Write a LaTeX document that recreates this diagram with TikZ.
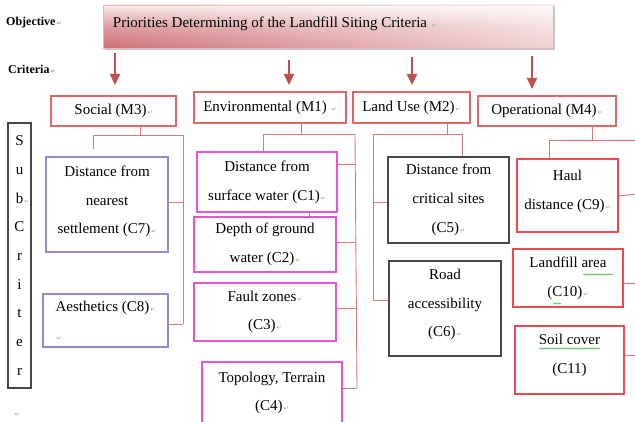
\documentclass[tikz,border=0pt]{standalone}
\usepackage{fontspec}
\setmainfont{Liberation Serif}
\newfontfamily\symf{DejaVu Sans}
\usetikzlibrary{arrows.meta,shadows,decorations.pathmorphing,fadings}
\definecolor{connc}{RGB}{224,120,120}
\definecolor{critc}{RGB}{222,104,104}
\definecolor{arrc}{RGB}{192,80,77}
\definecolor{lavc}{RGB}{155,135,205}
\definecolor{magc}{RGB}{236,82,214}
\definecolor{grayc}{RGB}{70,70,70}
\definecolor{redc}{RGB}{240,72,76}
\definecolor{tdark}{RGB}{206,112,118}
\definecolor{tlight}{RGB}{250,236,236}
\definecolor{wavyc}{RGB}{90,180,90}
\tikzfading[name=fadeR, left color=transparent!100, right color=transparent!0]
\newcommand\rt{{\symf\fontsize{6}{6}\selectfont\textcolor{gray!80}{\,↵}}}
\tikzset{
  box/.style={draw, line width=1.1pt, fill=white, align=center, inner sep=0pt,
    font=\fontsize{15}{28.7}\selectfont},
  crit/.style={box, draw=critc},
  lav/.style={box, draw=lavc},
  mag/.style={box, draw=magc},
  dark/.style={box, draw=grayc},
  redbox/.style={box, draw=redc},
  conn/.style={draw=connc, line width=0.9pt},
  arr/.style={draw=arrc, line width=2.2pt, -{Triangle[width=10pt,length=11pt]}},
  lbl/.style={font=\fontsize{12}{14}\selectfont\bfseries, inner sep=0pt, anchor=west},
  wavy/.style={draw=wavyc, line width=0.6pt, decorate,
    decoration={snake, amplitude=0.7pt, segment length=2.5pt}}
}
\begin{document}
\begin{tikzpicture}[x=1pt,y=-1pt]
\useasboundingbox (0,0) rectangle (635,422);
\clip (0,0) rectangle (635,422);
\fill[white] (0,0) rectangle (635,422);

% labels
\node[lbl] (objl) at (6,23) {Objective\rt};
\node[lbl] (crital) at (8,69) {Criteria\rt};

% title box (shaded), fade overlay, then text
\node[draw=tdark!50, line width=0.5pt, minimum width=450pt, minimum height=43pt,
  inner sep=0pt, top color=tlight, bottom color=tdark, middle color=tdark!65!tlight,
  drop shadow={shadow xshift=1.5pt, shadow yshift=-2.5pt, opacity=0.45}] (titlebox) at (328,26.5) {};
\fill[white, fill opacity=0.7, path fading=fadeR]
  ([xshift=0.3pt,yshift=0.3pt]titlebox.south west) rectangle ([xshift=-0.3pt,yshift=-0.3pt]titlebox.north east);
\node[anchor=west, inner sep=0pt, font=\fontsize{15}{18}\selectfont] (title)
  at ([xshift=10pt,yshift=2.5pt]titlebox.west)
  {Priorities Determining of the Landfill Siting Criteria \rt};

% arrows
\coordinate (a1s) at (115,53); \coordinate (a1e) at (115,85);
\coordinate (a2s) at (289,60); \coordinate (a2e) at (289,85);
\coordinate (a3s) at (412,57); \coordinate (a3e) at (412,85);
\coordinate (a4s) at (532,56); \coordinate (a4e) at (532,89);
\draw[arr] (a1s) -- (a1e);
\draw[arr] (a2s) -- (a2e);
\draw[arr] (a3s) -- (a3e);
\draw[arr] (a4s) -- (a4e);

% criteria
\node[crit, minimum width=125pt, minimum height=30pt] (social) at (113.5,111) {Social (M3)\rt};
\node[crit, minimum width=152pt, minimum height=31pt] (env) at (270,107.5) {Environmental (M1) \rt};
\node[crit, minimum width=117pt, minimum height=31pt] (land) at (411.5,107.5) {Land Use (M2)\rt};
\node[crit, minimum width=138pt, minimum height=30pt] (oper) at (547,111) {Operational (M4)\rt};

% sub-criteria label box
\node[draw=grayc, line width=1.3pt, minimum width=23pt, minimum height=265pt, inner sep=0pt,
  align=center, font=\fontsize{15}{28.7}\selectfont] (subc) at (19.5,255.5)
  {S\\u\\b\rlap{\rt}\\C\\r\\i\\t\\e\\r};
\node[inner sep=0pt] (endmark) at (17,415) {\rt};

% junction coordinates
\coordinate (sj) at (140,135); \coordinate (sl) at (93,135); \coordinate (sr) at (183,135);
\coordinate (ej) at (301,134); \coordinate (el) at (263,134); \coordinate (er) at (355,134);
\coordinate (lj) at (447,134); \coordinate (ll) at (373,134); \coordinate (lr) at (462,134);
\coordinate (oj) at (592,140); \coordinate (ol) at (549,140); \coordinate (orr) at (637,140);
\coordinate (sl2) at (93,149);

% social tree
\draw[conn] (social.south -| sj) -- (sj);
\draw[conn] (sl) -- (sr);
\draw[conn] (sl) -- (sl2);
\draw[conn] (sr) -- (183,324);
% environmental tree
\draw[conn] (env.south -| ej) -- (ej);
\draw[conn] (el) -- (er);
\draw[conn] (er) -- (357,388);
% land use tree
\draw[conn] (land.south -| lj) -- (lj);
\draw[conn] (ll) -- (lr);
\draw[conn] (ll) -- (373,300);
% operational tree
\draw[conn] (oper.south -| oj) -- (oj);
\draw[conn] (ol) -- (orr);
\draw[conn] (orr) -- (637,360);

% social sub-criteria
\node[lav, minimum width=122pt, minimum height=95pt, text depth=9pt] (c7) at (107,204.5)
  {Distance from\\nearest\\settlement (C7)\rt};
\node[lav, minimum width=125pt, minimum height=53pt, align=left] (c8) at (105.5,320.5)
  {Aesthetics (C8)\rt\\\rt};
\draw[conn] (c7.east |- 0,202) -- (sr |- 0,202);
\draw[conn] (c8.east |- 0,324) -- (sr |- 0,324);

% environmental sub-criteria
\draw[conn] (el) -- (el |- 0,152);
\node[mag, minimum width=140pt, minimum height=60pt] (c1) at (267,182)
  {Distance from\\surface water (C1)\rt};
\node[mag, minimum width=142pt, minimum height=55pt] (c2) at (265,244.5)
  {Depth of ground\\water (C2)\rt};
\node[mag, minimum width=142pt, minimum height=58pt] (c3) at (265,312)
  {Fault zones\rt\\(C3)\rt};
\node[mag, minimum width=140pt, minimum height=62pt] (c4) at (272,393)
  {Topology, Terrain\\(C4)\rt};
\draw[conn] (c1.south -| 309,0) -- (c2.north -| 309,0);
\draw[conn] (c1.east |- 0,164) -- (355.5,164);
\draw[conn] (c2.east |- 0,242) -- (356,242);
\draw[conn] (c3.east |- 0,308) -- (356.5,308);
\draw[conn] (c4.east |- 0,388) -- (357,388);

% land use sub-criteria
\draw[conn] (lr) -- (lr |- 0,157);
\node[dark, minimum width=121pt, minimum height=86pt] (c5) at (448.5,200)
  {Distance from\\critical sites\\(C5)\rt};
\node[dark, minimum width=112pt, minimum height=95pt, text depth=11pt] (c6) at (445,308.5)
  {Road\\accessibility\\(C6)\rt};
\draw[conn] (ll |- 0,202) -- (c5.west |- 0,202);
\draw[conn] (ll |- 0,300) -- (c6.west |- 0,300);

% operational sub-criteria
\draw[conn] (ol) -- (ol |- 0,159);
\node[redbox, minimum width=101pt, minimum height=73pt, text depth=12pt] (c9) at (567.5,195.5)
  {Haul\\distance (C9)\rt};
\node[redbox, minimum width=110pt, minimum height=58pt] (c10) at (568,278)
  {Landfill area\\(C10)\rt};
\node[redbox, minimum width=109pt, minimum height=68pt, text depth=12pt] (c11) at (569.5,360)
  {Soil cover\\(C11)};
\draw[conn] (c9.east |- 0,196) -- (orr |- 0,194);
\draw[conn] (c10.east |- 0,283) -- (orr |- 0,283);
\draw[conn] (c11.east |- 0,355) -- (orr |- 0,355);

% spell-check underlines
\draw[wavy] (583,274.5) -- (613,274.5);
\draw[wavy] (553,303.5) -- (561,303.5);
\draw[wavy] (539,348.5) -- (600,348.5);
\end{tikzpicture}
\end{document}
